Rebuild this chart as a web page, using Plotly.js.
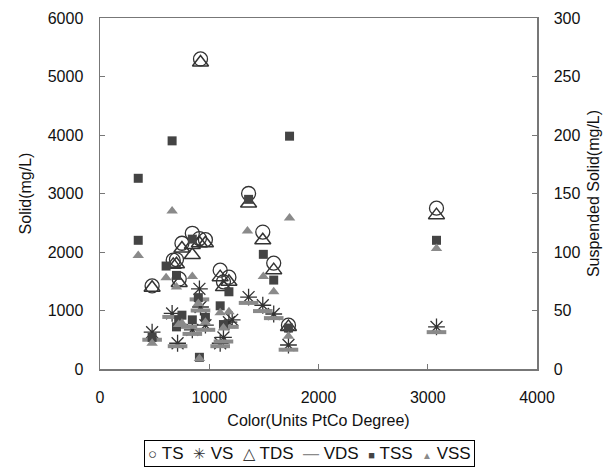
<!DOCTYPE html>
<html>
<head>
<meta charset="utf-8">
<script src="https://cdn.plot.ly/plotly-3.0.1.min.js"></script>
<style>html,body{margin:0;padding:0;background:#fff;}#chart{width:616px;height:473px;}</style>
</head>
<body>
<div id="chart"></div>
<script>
// Left axis series (mg/L)
const tsX  = [477, 670, 700, 725, 750, 845, 910, 965, 920, 1100, 1130, 1180, 1360, 1490, 1590, 1725, 3080];
const tsY  = [1420, 1860, 1870, 1540, 2150, 2320, 2230, 2210, 5300, 1690, 1490, 1570, 3000, 2340, 1810, 750, 2750];
const tdsX = [477, 670, 700, 725, 750, 845, 845, 910, 965, 920, 1100, 1130, 1180, 1360, 1490, 1590, 1725, 3080];
const tdsY = [1390, 1780, 1790, 1470, 2060, 2120, 1950, 2150, 2150, 5240, 1570, 1400, 1490, 2830, 2200, 1690, 720, 2630];
const vsX  = [477, 660, 710, 845, 910, 920, 965, 1100, 1130, 1180, 1210, 1360, 1490, 1590, 1725, 3080];
const vsY  = [630, 950, 440, 670, 1370, 1060, 750, 440, 540, 800, 840, 1230, 1090, 940, 410, 720];
const vdsX = [477, 660, 710, 800, 845, 910, 920, 965, 1100, 1130, 1180, 1360, 1490, 1590, 1725, 3080];
const vdsY = [500, 890, 390, 720, 600, 1190, 1000, 670, 390, 470, 720, 1130, 990, 870, 330, 630];
// Right axis series (mg/L)
const tssX = [350, 350, 477, 605, 660, 700, 700, 720, 750, 845, 845, 900, 910, 965, 1100, 1130, 1180, 1360, 1495, 1590, 1725, 1735, 3080];
const tssY = [163, 110, 27, 88, 195, 80, 36, 42, 46, 111, 42, 61, 10, 44, 54, 38, 66, 145, 98, 76, 35, 199, 110];
const vssX = [350, 477, 605, 660, 700, 720, 750, 845, 900, 910, 965, 1100, 1130, 1180, 1350, 1495, 1590, 1725, 1735, 3080];
const vssY = [97, 22, 78, 135, 70, 38, 39, 79, 56, 9, 40, 48, 35, 49, 118, 79, 66, 28, 129, 103];

const names = ['TS', 'VS', 'TDS', 'VDS', 'TSS', 'VSS'];
const legendGlyphs = ['○', '✳', '△', '—', '■', '▲'];
const dark = '#333333', gray = '#8a8a8a', sq = '#444444';
const glyphColors = [dark, dark, dark, gray, sq, gray];
const glyphSizes = [15, 15, 16, 16, 11, 10];

const traces = [
  {x: tsX, y: tsY, name: names[0], mode: 'markers', type: 'scatter',
   marker: {symbol: 'circle-open', size: 14, color: dark, line: {width: 1.3, color: dark}}},
  {x: vsX, y: vsY, name: names[1], mode: 'markers', type: 'scatter',
   marker: {symbol: 'asterisk-open', size: 14, color: dark, line: {width: 1.3, color: dark}}},
  {x: tdsX, y: tdsY, name: names[2], mode: 'markers', type: 'scatter',
   marker: {symbol: 'triangle-up-open', size: 14, color: dark, line: {width: 1.5, color: dark}}},
  {x: vdsX, y: vdsY, name: names[3], mode: 'markers', type: 'scatter',
   marker: {symbol: 'line-ew-open', size: 14, color: gray, line: {width: 4, color: gray}}},
  {x: tssX, y: tssY, name: names[4], mode: 'markers', type: 'scatter', yaxis: 'y2',
   marker: {symbol: 'square', size: 9, color: sq}},
  {x: vssX, y: vssY, name: names[5], mode: 'markers', type: 'scatter', yaxis: 'y2',
   marker: {symbol: 'triangle-up', size: 10, color: gray}}
];

const legendText = names.map((n, i) =>
  '<span style="color:' + glyphColors[i] + ';font-size:' + glyphSizes[i] + 'px">' + legendGlyphs[i] + '</span>&nbsp;' + n
).join('&nbsp;&nbsp;');

const fnt = {family: 'Liberation Sans, Arial, sans-serif', size: 16, color: '#111'};
const layout = {
  width: 616, height: 473,
  margin: {l: 100, r: 79, t: 18, b: 104, autoexpand: false},
  paper_bgcolor: '#fff', plot_bgcolor: '#fff',
  font: fnt,
  showlegend: false,
  annotations: [{
    text: legendText, showarrow: false,
    xref: 'paper', yref: 'paper', x: 0.479, y: -0.24, xanchor: 'center', yanchor: 'middle',
    font: {family: fnt.family, size: 17, color: '#111'},
    bordercolor: '#000', borderwidth: 1, borderpad: 3, bgcolor: '#fff'
  }],
  xaxis: {range: [0, 4000], dtick: 1000, tick0: 0, showgrid: false, zeroline: false,
          showline: true, linecolor: '#777', linewidth: 1.5, mirror: true,
          ticks: 'inside', ticklen: 5, tickcolor: '#777', ticklabelstandoff: 13,
          tickfont: fnt, title: {text: 'Color(Units PtCo Degree)', font: fnt, standoff: 10}},
  yaxis: {range: [0, 6000], dtick: 1000, tick0: 0, showgrid: false, zeroline: false,
          showline: true, linecolor: '#777', linewidth: 1.5,
          ticks: 'inside', ticklen: 5, tickcolor: '#777', ticklabelstandoff: 12,
          tickfont: fnt, title: {text: 'Solid(mg/L)', font: fnt, standoff: 12}},
  yaxis2: {range: [0, 300], dtick: 50, tick0: 0, overlaying: 'y', side: 'right',
           showgrid: false, zeroline: false, showline: true, linecolor: '#777', linewidth: 1.5,
           ticks: 'inside', ticklen: 5, tickcolor: '#777', ticklabelstandoff: 12,
           tickfont: fnt, title: {text: 'Suspended Solid(mg/L)', font: fnt, standoff: 8}}
};
Plotly.newPlot('chart', traces, layout, {displayModeBar: false, staticPlot: true});
</script>
</body>
</html>
